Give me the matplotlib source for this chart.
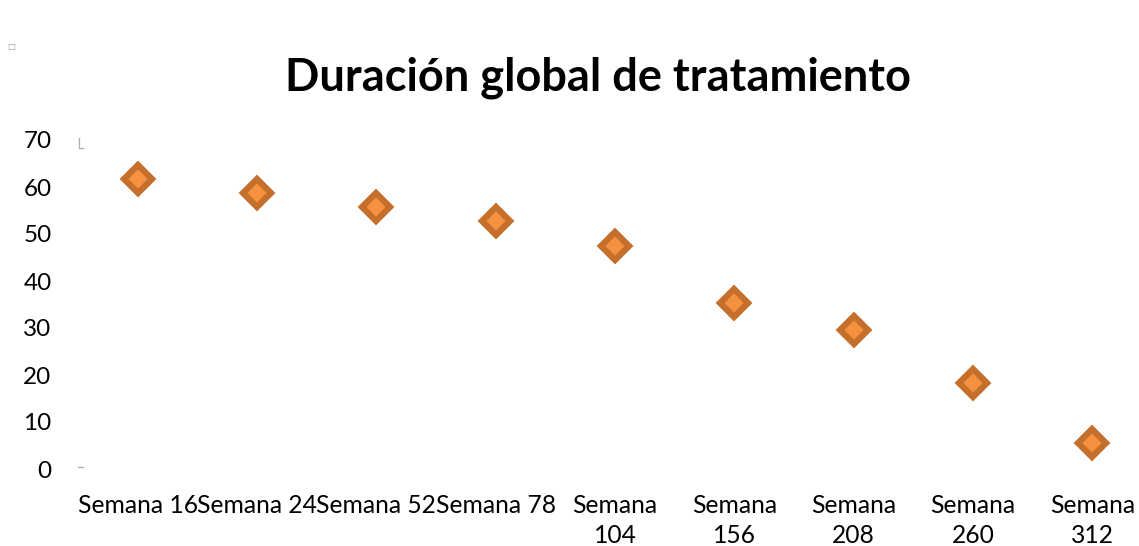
import numpy as np
import matplotlib.pyplot as plt

# datos
categorias = ["Semana 16", "Semana 24", "Semana 52", "Semana 78", "Semana\n104",
              "Semana\n156", "Semana\n208", "Semana\n260", "Semana\n312"]
valores = [61.8, 58.7, 55.7, 52.7, 47.5, 35.4, 29.5, 18.4, 5.5]
yticks = [0, 10, 20, 30, 40, 50, 60, 70]

plt.rcParams['font.family'] = ['Lato', 'DejaVu Sans']

fig = plt.figure(figsize=(11.39, 5.46), dpi=100)
W, H = 1139, 546
ax = fig.add_axes([78 / W, 1 - 469 / H, (1152 - 78) / W, (469 - 140) / H])

x = np.arange(len(categorias))
ax.plot(x, valores, linestyle='none', marker='D', markersize=14,
        markerfacecolor='#F5913F', markeredgecolor='#C4702C', markeredgewidth=4.5)

ax.set_xlim(-0.5, len(categorias) - 0.5)
ax.set_ylim(0, 70)
ax.set_xticks(x)
ax.set_xticklabels(categorias, fontsize=17.7, linespacing=1.38)
ax.set_yticks(yticks)
ax.set_yticklabels([str(v) for v in yticks], fontsize=17.5)
ax.tick_params(axis='both', length=0, colors='black')
ax.tick_params(axis='y', pad=19)
ax.tick_params(axis='x', pad=18)
for s in ax.spines.values():
    s.set_visible(False)

fig.text(598 / W, 1 - 78 / H, "Duración global de tratamiento", fontsize=32.5,
         fontweight='bold', ha='center', va='center')

# pequeñas marcas grises
fig.text(11 / W, 1 - 47 / H, "□", fontsize=6, color='#999999', ha='center', va='center',
         family=['DejaVu Sans'])
fig.add_artist(plt.Line2D([79 / W, 79 / W, 83 / W], [1 - 138 / H, 1 - 148 / H, 1 - 148 / H],
                          color='#aaaaaa', lw=0.9))
fig.add_artist(plt.Line2D([78 / W, 83 / W], [1 - 467 / H, 1 - 467 / H], color='#aaaaaa', lw=0.9))

fig.savefig("out.png", dpi=100)
